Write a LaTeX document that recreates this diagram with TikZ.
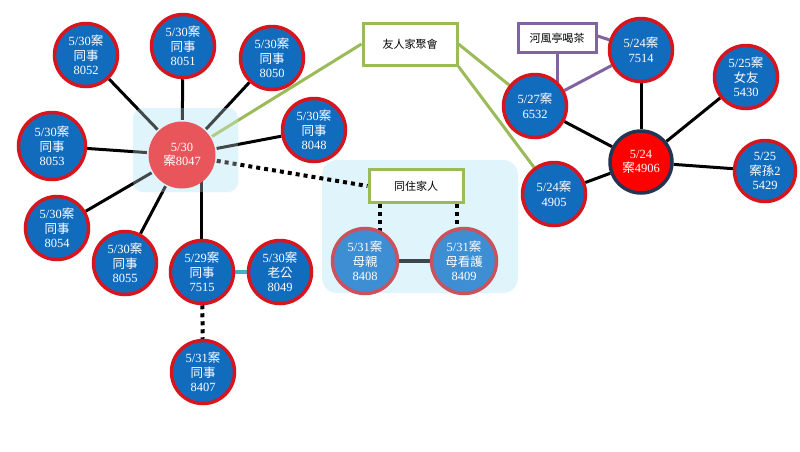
\documentclass[tikz,border=0pt]{standalone}
\usepackage{fontspec}
\setmainfont{Liberation Serif}
\newfontfamily\cjk{Noto Sans CJK TC}
\newcommand\zh[1]{{\cjk #1}}
\pgfdeclarelayer{paper}
\pgfdeclarelayer{edges}
\pgfdeclarelayer{veil}
\pgfsetlayers{paper,edges,veil,main}
\definecolor{cblue}{RGB}{18,108,190}
\definecolor{cred}{RGB}{214,22,30}
\definecolor{hubred}{RGB}{232,86,92}
\definecolor{hotred}{RGB}{255,0,0}
\definecolor{navy}{RGB}{36,52,82}
\definecolor{lblue}{RGB}{62,142,212}
\definecolor{lred}{RGB}{202,82,92}
\definecolor{veilc}{RGB}{224,244,251}
\definecolor{ggreen}{RGB}{155,187,89}
\definecolor{ppurple}{RGB}{128,100,162}
\definecolor{teal}{RGB}{75,172,198}
\definecolor{dgray}{RGB}{58,72,78}
\tikzset{
  person/.style={circle, draw=cred, fill=cblue, line width=3.5pt, minimum size=63pt,
    inner sep=0pt, text=white, align=center, font=\fontsize{12.5}{14.5}\selectfont},
  hub/.style={person, draw=none, fill=hubred, minimum size=67pt},
  hothub/.style={person, draw=navy, fill=hotred, minimum size=62pt},
  family/.style={person, draw=lred, fill=lblue, minimum size=65pt},
  event/.style={rectangle, fill=white, line width=3pt, inner sep=0pt,
    font=\cjk\fontsize{11}{13}\selectfont},
  tie/.style={line width=3pt, black},
  dots/.style={line width=4pt, black, dash pattern=on 4pt off 4pt},
  greenlink/.style={line width=3pt, ggreen},
  purplelink/.style={line width=3pt, ppurple},
}
\begin{document}
\begin{tikzpicture}[x=1pt,y=-1pt]
\useasboundingbox (0,0) rectangle (800,451);
\begin{pgfonlayer}{paper}
\fill[white] (0,0) rectangle (800,451);
\fill[veilc, rounded corners=15pt] (322,160) rectangle (518,293);
\fill[veilc, rounded corners=10pt] (133,108) rectangle (238,192);
\end{pgfonlayer}
% people
\node[person] (n8052) at (86,55) {5/30\zh{案}\\\zh{同事}\\8052};
\node[person] (n8051) at (183,46) {5/30\zh{案}\\\zh{同事}\\8051};
\node[person] (n8050) at (272,58) {5/30\zh{案}\\\zh{同事}\\8050};
\node[person] (n8048) at (314,130) {5/30\zh{案}\\\zh{同事}\\8048};
\node[person, minimum size=67pt] (n8053) at (52,146) {5/30\zh{案}\\\zh{同事}\\8053};
\node[hub] (n8047) at (182,155) {5/30\\\zh{案}8047};
\node[person] (n8054) at (57,228) {5/30\zh{案}\\\zh{同事}\\8054};
\node[person] (n8055) at (125,263) {5/30\zh{案}\\\zh{同事}\\8055};
\node[person] (n7515) at (202,272) {5/29\zh{案}\\\zh{同事}\\7515};
\node[person] (n8049) at (280,272) {5/30\zh{案}\\\zh{老公}\\8049};
\node[person] (n8407) at (203,372) {5/31\zh{案}\\\zh{同事}\\8407};
\node[family] (n8408) at (365,261) {5/31\zh{案}\\\zh{母親}\\8408};
\node[family] (n8409) at (464,261) {5/31\zh{案}\\\zh{母看護}\\8409};
\node[person] (n6532) at (535,106) {5/27\zh{案}\\6532};
\node[person] (n7514) at (641,50) {5/24\zh{案}\\7514};
\node[person] (n5430) at (746,77) {5/25\zh{案}\\\zh{女友}\\5430};
\node[hothub] (n4906) at (641,162) {5/24\\\zh{案}4906};
\node[person, minimum size=61pt] (n5429) at (765,171) {5/25\\\zh{案孫}2\\5429};
\node[person] (n4905) at (554,194) {5/24\zh{案}\\4905};
% events
\node[event, draw=ggreen, minimum width=94pt, minimum height=42pt] (b1) at (410,44) {友人家聚會};
\node[event, draw=ppurple, minimum width=78pt, minimum height=29pt] (b2) at (557,38) {河風亭喝茶};
\node[event, draw=ggreen, minimum width=94pt, minimum height=33pt] (b3) at (416,186) {同住家人};
% connectors
\begin{pgfonlayer}{edges}
\draw[tie] (n8047) -- (n8052);
\draw[tie] (n8047) -- (n8051);
\draw[tie] (n8047) -- (n8050);
\draw[tie] (n8047) -- (n8048);
\draw[tie] (n8047) -- (n8053);
\draw[tie] (n8047) -- (n8054);
\draw[tie] (n8047) -- (n8055);
\draw[tie] ([xshift=-1pt]n7515.center) -- ([xshift=-1pt]n7515.center |- n8047.center);
\draw[greenlink] (n8047) -- (b1.west);
\draw[dots] (n8047) -- (b3.west);
\draw[line width=4pt, teal] (n7515) -- (n8049);
\draw[dots] (n7515) -- (n8407);
\draw[dots] ([xshift=12pt]b3.south west) -- ([xshift=12pt]b3.south west |- n8408.center);
\draw[dots] ([xshift=-8pt]b3.south east) -- ([xshift=-8pt]b3.south east |- n8409.center);
\draw[line width=3.5pt, dgray] (n8408) -- (n8409);
\draw[greenlink] (b1.east) -- (n6532);
\draw[greenlink] (b1.south east) -- (n4905);
\draw[purplelink] (b2.south) -- (b2.south |- n6532.center);
\draw[purplelink] ([yshift=2pt]b2.east) -- (n7514);
\draw[purplelink] (n7514) -- (n6532);
\draw[tie] (n4906) -- (n7514);
\draw[tie] (n4906) -- (n5430);
\draw[tie] (n4906) -- (n5429);
\draw[tie] (n4906) -- (n4905);
\draw[tie] (n4906) -- (n6532);
\end{pgfonlayer}
\begin{pgfonlayer}{veil}
\fill[veilc, fill opacity=0.3, rounded corners=10pt] (133,108) rectangle (238,192);
\end{pgfonlayer}
\end{tikzpicture}
\end{document}
